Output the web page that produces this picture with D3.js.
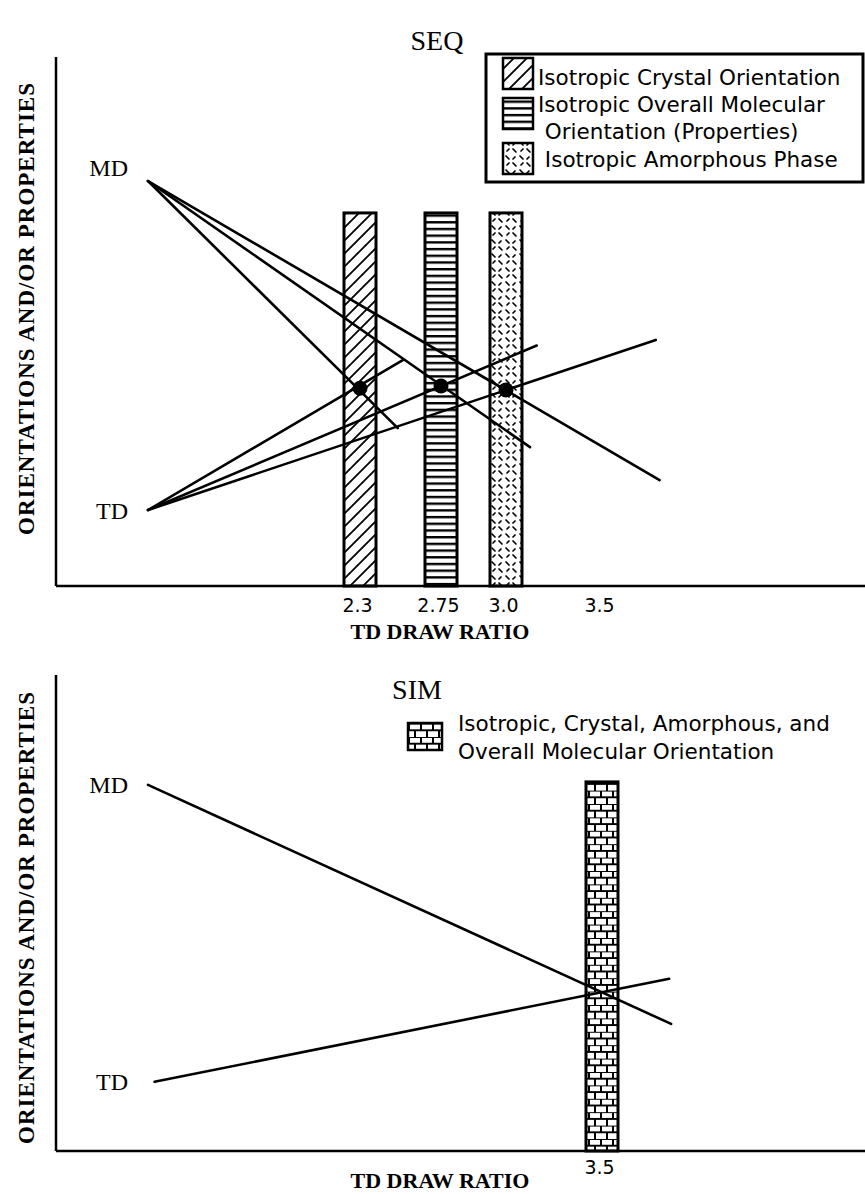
<!DOCTYPE html>
<html>
<head>
<meta charset="utf-8">
<script src="https://cdn.jsdelivr.net/npm/d3@7"></script>
<style>
  body { margin: 0; background: #fff; }
  svg { display: block; }
  .serif { font-family: "Liberation Serif", "Times New Roman", serif; }
  .sans { font-family: "DejaVu Sans", sans-serif; }
</style>
</head>
<body>
<div id="chart"></div>
<script>
// draw ratio ticks (the axis is not linear in the original, bars sit on the ticks)
const seqTicks = [2.3, 2.75, 3.0, 3.5];
const seqTickLabels = ["2.3", "2.75", "3.0", "3.5"];
const simTicks = [3.5];
const simTickLabels = ["3.5"];

// SEQ: isotropic bars (draw ratio, top value, pattern)
const seqBars = [
  { x: 2.3, top: 0.903, pattern: "hatch" },
  { x: 2.75, top: 0.903, pattern: "stripes" },
  { x: 3.0, top: 0.903, pattern: "dashes" }
];
// SEQ lines: MD decreasing, TD increasing (0 = TD level, 1 = MD level)
const seqLines = [
  { x1: 1.0, y1: 1, x2: 2.51, y2: 0.249 },
  { x1: 1.0, y1: 1, x2: 3.125, y2: 0.191 },
  { x1: 1.0, y1: 1, x2: 3.80, y2: 0.091 },
  { x1: 1.0, y1: 0, x2: 2.54, y2: 0.456 },
  { x1: 1.0, y1: 0, x2: 3.16, y2: 0.50 },
  { x1: 1.0, y1: 0, x2: 3.78, y2: 0.517 }
];
const seqDots = [
  { x: 2.3, y: 0.37 },
  { x: 2.75, y: 0.377 },
  { x: 3.0, y: 0.365 }
];
const seqLegend = [
  { pattern: "hatch", lines: ["Isotropic Crystal Orientation"] },
  { pattern: "stripes", lines: ["Isotropic Overall Molecular", " Orientation (Properties)"] },
  { pattern: "dashes", lines: [" Isotropic Amorphous Phase"] }
];

// SIM
const simBars = [{ x: 3.5, top: 1.01, pattern: "brick" }];
const simLines = [
  { x1: 1.0, y1: 1, x2: 3.86, y2: 0.195 },
  { x1: 1.04, y1: 0, x2: 3.85, y2: 0.347 }
];
const simLegend = ["Isotropic, Crystal, Amorphous, and", "Overall Molecular Orientation"];

const W = 865, H = 1194;
const svg = d3.select("#chart").append("svg")
  .attr("width", W).attr("height", H);

// patterns
const defs = svg.append("defs");
const hatch = defs.append("pattern").attr("id", "hatch")
  .attr("patternUnits", "userSpaceOnUse").attr("width", 13).attr("height", 13);
hatch.append("path").attr("d", "M0,13L13,0M-4,4L4,-4M9,17L17,9")
  .attr("stroke", "#000").attr("stroke-width", 1.8);

const stripes = defs.append("pattern").attr("id", "stripes")
  .attr("patternUnits", "userSpaceOnUse").attr("width", 10).attr("height", 6.7);
stripes.append("rect").attr("x", 0).attr("y", 0).attr("width", 10).attr("height", 2.4).attr("fill", "#000");

const dashes = defs.append("pattern").attr("id", "dashes")
  .attr("patternUnits", "userSpaceOnUse").attr("width", 14).attr("height", 14);
dashes.append("path").attr("d", "M2,2L5,5M9,9L12,12M9,5L11,3M3,11L5,9")
  .attr("stroke", "#000").attr("stroke-width", 1.7).attr("stroke-linecap", "round");

const brick = defs.append("pattern").attr("id", "brick")
  .attr("patternUnits", "userSpaceOnUse").attr("width", 12).attr("height", 13.4);
brick.append("path").attr("d", "M0,0H12M0,6.7H12M1,0V6.7M7,6.7V13.4")
  .attr("stroke", "#000").attr("stroke-width", 2);

function panel(opt) {
  const x = d3.scaleLinear()
    .domain([1.0, 2.3, 2.75, 3.0, 3.5])
    .range([148, 360, 441, 506, 602]);
  const y = d3.scaleLinear().domain(opt.yDomain).range([opt.bottom, opt.top]);
  const g = svg.append("g");
  const barW = 32;

  // frame
  g.append("line").attr("x1", 56).attr("x2", 56)
    .attr("y1", y(opt.yDomain[1])).attr("y2", y(opt.yDomain[0]))
    .attr("stroke", "#000").attr("stroke-width", 2.5);
  g.append("line").attr("x1", 56).attr("x2", W)
    .attr("y1", y(opt.yDomain[0])).attr("y2", y(opt.yDomain[0]))
    .attr("stroke", "#000").attr("stroke-width", 2.5);

  // bars
  g.selectAll(".bar").data(opt.bars).enter().append("rect")
    .attr("x", d => x(d.x) - barW / 2)
    .attr("y", d => y(d.top))
    .attr("width", barW)
    .attr("height", d => y(opt.yDomain[0]) - y(d.top))
    .attr("fill", d => "url(#" + d.pattern + ")")
    .attr("stroke", "#000").attr("stroke-width", 3);

  // lines
  g.selectAll(".ln").data(opt.lines).enter().append("line")
    .attr("x1", d => x(d.x1)).attr("y1", d => y(d.y1))
    .attr("x2", d => x(d.x2)).attr("y2", d => y(d.y2))
    .attr("stroke", "#000").attr("stroke-width", 2.6).attr("stroke-linecap", "round");

  g.selectAll(".dot").data(opt.dots).enter().append("circle")
    .attr("cx", d => x(d.x)).attr("cy", d => y(d.y)).attr("r", 7.5).attr("fill", "#000");

  // ticks
  const ax = g.append("g")
    .attr("transform", "translate(0," + y(opt.yDomain[0]) + ")")
    .call(d3.axisBottom(x).tickValues(opt.ticks).tickSize(0)
      .tickFormat((d, i) => opt.tickLabels[i]));
  ax.select(".domain").remove();
  ax.selectAll("text").attr("class", "sans").style("font-size", "19px")
    .attr("fill", "#000").attr("dy", null).attr("y", opt.tickY - y(opt.yDomain[0]))
    .attr("dx", -3);

  // MD / TD labels
  g.append("text").attr("class", "serif").attr("x", 128).attr("y", y(1) + opt.mdDy)
    .attr("text-anchor", "end").style("font-size", "24px").text("MD");
  g.append("text").attr("class", "serif").attr("x", 128).attr("y", y(0) + opt.tdDy)
    .attr("text-anchor", "end").style("font-size", "24px").text("TD");

  // axis titles
  g.append("text").attr("class", "serif").attr("x", 440).attr("y", opt.xTitleY)
    .attr("text-anchor", "middle").style("font-size", "22px").style("font-weight", "bold")
    .text("TD DRAW RATIO");
  g.append("text").attr("class", "serif")
    .attr("transform", "translate(34," + opt.yTitleC + ") rotate(-90)")
    .attr("text-anchor", "middle").style("font-size", "23px").style("font-weight", "bold")
    .attr("textLength", 452).attr("lengthAdjust", "spacing")
    .text("ORIENTATIONS AND/OR PROPERTIES");

  // panel title
  g.append("text").attr("class", "serif").attr("x", opt.titleX).attr("y", opt.titleY)
    .attr("text-anchor", "middle").style("font-size", "28px").text(opt.title);
  return g;
}

panel({
  title: "SEQ", titleX: 437, titleY: 50,
  yDomain: [-0.231, 1.377], bottom: 586, top: 57,
  bars: seqBars, lines: seqLines, dots: seqDots,
  ticks: seqTicks, tickLabels: seqTickLabels, tickY: 612,
  mdDy: -5, tdDy: 9, xTitleY: 639, yTitleC: 309
});

panel({
  title: "SIM", titleX: 417, titleY: 699,
  yDomain: [-0.233, 1.37], bottom: 1151, top: 675,
  bars: simBars, lines: simLines, dots: [],
  ticks: simTicks, tickLabels: simTickLabels, tickY: 1174,
  mdDy: 8, tdDy: 8, xTitleY: 1188, yTitleC: 918
});

// SEQ legend
const leg = svg.append("g");
leg.append("rect").attr("x", 486).attr("y", 54).attr("width", 377).attr("height", 128)
  .attr("fill", "#fff").attr("stroke", "#000").attr("stroke-width", 3);
const swatchY = [58, 98, 143];
const textY = [[85], [112, 139], [167]];
seqLegend.forEach((d, i) => {
  leg.append("rect").attr("x", 503).attr("y", swatchY[i]).attr("width", 30).attr("height", 31)
    .attr("fill", "url(#" + d.pattern + ")").attr("stroke", "#000").attr("stroke-width", 2.5);
  d.lines.forEach((t, j) => {
    leg.append("text").attr("class", "sans").attr("x", 538).attr("y", textY[i][j])
      .style("font-size", "21.5px").style("white-space", "pre").attr("xml:space", "preserve").text(t);
  });
});

// SIM legend
const leg2 = svg.append("g");
leg2.append("rect").attr("x", 408).attr("y", 723).attr("width", 34).attr("height", 27)
  .attr("fill", "url(#brick)").attr("stroke", "#000").attr("stroke-width", 2.5);
simLegend.forEach((t, j) => {
  leg2.append("text").attr("class", "sans").attr("x", 458).attr("y", 731 + j * 28)
    .style("font-size", "21.5px").text(t);
});
</script>
</body>
</html>
